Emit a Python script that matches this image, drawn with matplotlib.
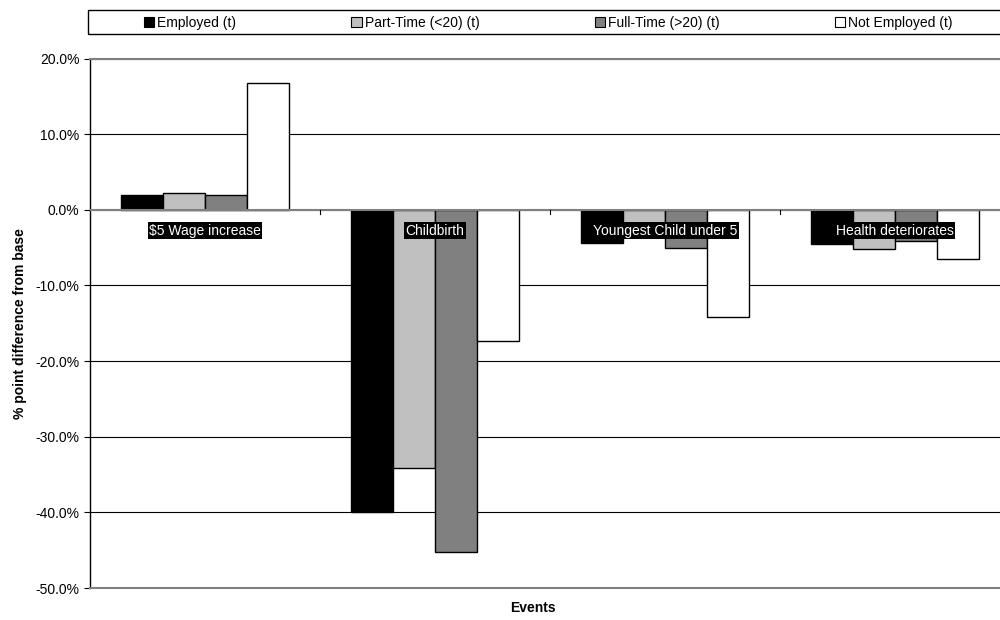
import numpy as np
import matplotlib
matplotlib.use("Agg")
import matplotlib.pyplot as plt
from matplotlib.patches import Patch, Rectangle
from matplotlib.ticker import FuncFormatter

plt.rcParams['font.family'] = ['Liberation Sans', 'DejaVu Sans']

events = ['$5 Wage increase', 'Childbirth', 'Youngest Child under 5', 'Health deteriorates']
series = ['Employed (t)', 'Part-Time (<20) (t)', 'Full-Time (>20) (t)', 'Not Employed (t)']
employed = [2.0, -40.0, -4.4, -4.5]
part_time = [2.2, -34.2, -2.7, -5.2]
full_time = [1.9, -45.2, -5.0, -4.1]
not_employed = [16.8, -17.3, -14.2, -6.5]
colors = ['#000000', '#c0c0c0', '#808080', '#ffffff']

fs = 10
fig = plt.figure(figsize=(10, 6.2), dpi=100)
ax = fig.add_axes([0.09, 0.0516, 0.92, 0.854])

x = np.arange(len(events))
w = 0.183
data = [employed, part_time, full_time, not_employed]
for k, (vals, c) in enumerate(zip(data, colors)):
    ax.bar(x + (k - 1.5) * w, vals, w, color=c, edgecolor='#000000', linewidth=1.0, zorder=3)

ax.set_xlim(-0.5, 3.5)
ax.set_ylim(-50, 20)
ax.set_yticks(np.arange(-50, 21, 10))
ax.yaxis.set_major_formatter(FuncFormatter(lambda v, p: f'{v:.1f}%'))
ax.grid(axis='y', color='#000000', linewidth=0.8, zorder=0)
ax.tick_params(axis='y', labelsize=fs, length=4, width=0.8, direction='out')

# category axis sits at zero
ax.set_xticks([])
ax.axhline(0, color='#808080', linewidth=1.5, zorder=4)
for b in [0.5, 1.5, 2.5]:
    ax.plot([b, b], [0, -0.55], color='#000000', linewidth=0.8, zorder=4)

for i, ev in enumerate(events):
    ax.annotate(ev, xy=(i, 0), xytext=(0, -15), textcoords='offset points',
                ha='center', va='center', color='white', fontsize=fs, zorder=6,
                bbox=dict(boxstyle='square,pad=0.1', fc='black', ec='none'))

for s in ['top', 'bottom']:
    ax.spines[s].set_color('#808080')
    ax.spines[s].set_linewidth(1.5)
ax.spines['right'].set_visible(False)
ax.spines['left'].set_color('#000000')
ax.spines['left'].set_linewidth(1.0)

ax.set_ylabel('% point difference from base', fontsize=fs, fontweight='bold', labelpad=6)
fig.text(0.533, 0.02, 'Events', ha='center', va='center', fontsize=fs, fontweight='bold')

# legend frame
fig.patches.append(Rectangle((0.088, 0.945), 0.93, 0.039, transform=fig.transFigure,
                             fill=False, edgecolor='#000000', linewidth=1.0))
handles = [Patch(facecolor=c, edgecolor='#000000', linewidth=0.8) for c in colors]
leg = fig.legend(handles, series, ncol=4, loc='center left',
                 bbox_to_anchor=(0.144, 0.963), fontsize=fs, frameon=False,
                 borderaxespad=0, borderpad=0, handlelength=0.75, handleheight=0.75,
                 handletextpad=0.2, columnspacing=8.3)

fig.savefig('out.png', dpi=100)
